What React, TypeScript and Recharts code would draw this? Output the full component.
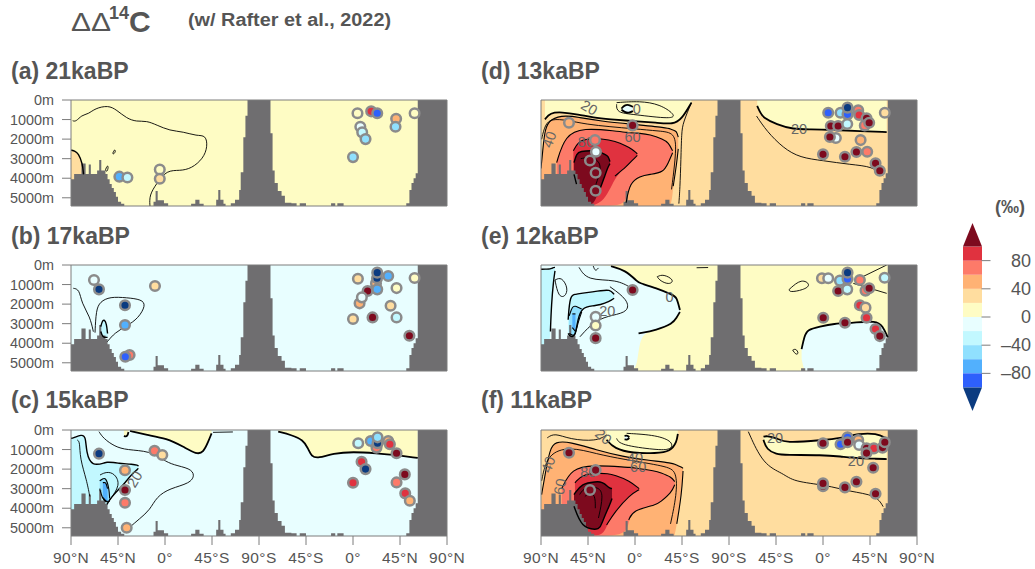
import { BarChart, Bar, ComposedChart, Area, Line, Scatter, XAxis, YAxis } from 'recharts';

// section runs 90N -> 90S (Atlantic) then 90S -> 90N (Pacific), x in degrees from the left edge
const xTicks = [0, 45, 90, 135, 180, 225, 270, 315, 360];
const xTickLabels = ['90°N', '45°N', '0°', '45°S', '90°S', '45°S', '0°', '45°N', '90°N'];
const depthTicks = [0, 1000, 2000, 3000, 4000, 5000];
const maxDepth = 5420;

// [x start of column, sea floor depth]
const seaFloor = [
  [0, 4050], [3, 3780], [10, 3250], [14, 3780], [17, 3300], [19, 3780], [25, 3600], [27, 3070], [29, 3600], [33, 3790],
  [35, 4050], [37, 4300], [39, 4500], [41, 4700], [43, 4950], [45, 5200], [48, 5300], [51, 5420],
  [79, 5200], [81, 4650], [83, 5120], [89, 5280], [93, 5420],
  [115, 5300], [119, 5100], [123, 5300], [127, 5420],
  [139, 5100], [141, 4600], [143, 5100], [146, 5300], [148, 5420],
  [153, 5280], [157, 5100], [161, 4600], [162.5, 3700], [165, 1900], [167, 800], [169, 0],
  [191, 1700], [193, 3600], [195, 4250], [198, 4650], [201.6, 4900], [204.8, 5250], [211, 5280], [216, 5420],
  [219, 5280], [225, 5420], [249, 5280], [253, 5420], [255, 5280], [261, 5420],
  [321, 5280], [324, 4600], [326, 4250], [328, 4000], [330, 3750], [332, 0], [360, 0],
];

// colour bands, lower bound of each step in permil
const bandColours = [
  [100, '#7d0a1e'], [80, '#e0323f'], [60, '#fd7a69'], [40, '#ffb274'], [20, '#ffdd9f'], [0, '#fefcc4'],
  [-20, '#e8feff'], [-40, '#c2f8ff'], [-60, '#90e0fe'], [-80, '#52b0fd'], [-100, '#2e60fc'],
];
const barSteps = [20, 20, 20, 20, 20];
const barTicks = [-80, -40, 0, 40, 80];

// bands: [x, top depth, bottom depth]
const bandsA = [
  { level: 30, pts: [[0, 2560, 5420], [4, 2620, 5420], [7, 2730, 5420], [11, 3240, 5420], [12, 3800, 5420]] },
];
const linesA = [
  [[1.6, 1060], [4.8, 1110], [10.2, 770], [16.6, 720], [23, 430], [35.7, 270], [43.7, 510], [53.3, 940], [62.8, 1110], [72.4, 1060], [82, 1280], [94.7, 1570], [107.5, 1620], [120.3, 1840], [129.2, 1790], [130.8, 2390], [126.6, 2990], [115.5, 3500], [104.3, 3620], [91.6, 3580], [82, 4270], [75, 4860], [75.6, 5420]],
  [[40, 2730], [41.5, 2520], [43, 2600], [41, 2780], [40, 2730]],
  [[33, 3580], [34.5, 3350], [36, 3400], [34.5, 3700], [33, 3580]],
];
const markersA = [
  [46.3, 3920, -70], [54, 3960, -30], [85, 3550, 10], [85, 4030, 30],
  [274.3, 680, 10], [287.4, 580, 90], [293.2, 680, -90], [311.3, 955, 50], [310.7, 1365, -50], [329, 680, 10],
  [277, 1365, -10], [278.8, 1655, -30], [282, 2000, -50], [270, 2920, -50],
];

const bandsB = [
  { level: -30, pts: [[28.5, 3150, 3400], [30, 2850, 3650], [32, 2790, 3700], [34, 3000, 3700], [35, 3500, 3700]] },
];
const linesB = [
  [[2.2, 1190], [8, 1245], [10.2, 1960], [18.2, 2640], [21.4, 3410]],
  [[23, 3460], [24, 2300], [27.8, 1880], [37.3, 1620], [53.3, 1670], [67.6, 1760], [71.8, 2050], [64.4, 2730], [53.3, 3120], [42, 3460], [34.8, 3920]],
];
const markersB = [
  [22, 770, -10], [26.8, 1245, -110], [80.4, 1075, 30], [51.7, 2060, -110], [51.7, 3070, -70], [56.1, 4600, 70], [52, 4690, -90],
  [274.7, 700, 30], [292, 940, 50], [293, 680, -110], [293.2, 390, -110], [303.7, 560, -70], [284, 1330, 110], [293.2, 1245, -70],
  [311.7, 1180, 10], [329, 665, 10], [276.3, 1960, 50], [278.5, 1655, -10], [306, 2080, 30], [270, 2760, 30], [288.7, 2680, 110],
  [311.7, 2680, -30], [324, 3620, 110],
];

const bandsC = [
  { level: 10, pts: [[56.5, 0, 50], [72.5, 0, 255], [91.6, 0, 430], [107.5, 0, 850], [120.3, 0, 1245], [126.6, 0, 1160], [131.4, 0, 600], [134.6, 0, 170]] },
  { level: 10, pts: [[50.7, 0, 300], [52, 0, 340], [54, 0, 320], [55, 0, 100]] },
  { level: 10, pts: [[198.4, 0, 85], [211, 0, 255], [222.3, 0, 510], [227, 0, 940], [230.3, 0, 1365], [236.7, 0, 1450], [251, 0, 1190], [270, 0, 1110], [292.5, 0, 1190], [311.7, 0, 1280], [330, 0, 1415], [332, 0, 1430]] },
  { level: -30, pts: [[0, 420, 5420], [1.6, 430, 5420], [10.2, 220, 5420], [14.2, 340, 5420], [14.6, 1150, 5420], [19.8, 1880, 5420], [33.7, 1650, 5420], [34.5, 1650, 3800], [35.7, 1650, 3670], [40.5, 1660, 3330], [46.4, 1700, 2990], [50, 1720, 2810], [58, 1750, 2270], [64, 1790, 2000], [64.5, 1850, 1960]] },
  { level: -50, pts: [[27.5, 2600, 3000], [30, 2500, 3500], [33.5, 2430, 3700], [36.5, 3000, 3650], [37, 3500, 3650]] },
  { level: -70, pts: [[30.5, 2700, 3450], [33.5, 2650, 3650], [35, 3000, 3650]] },
];
const linesC = [
  [[136, 120], [155, 100]],
  [[6, 510], [8.5, 600], [8.5, 1450], [15, 2560], [18, 3400]],
  [[26.8, 85], [31, 430], [42, 850], [53.3, 1020], [75.6, 1075], [88.4, 1535], [98, 1790], [114, 1960], [118.7, 2300], [114, 2730], [94.7, 2985], [82, 3410], [75.6, 4090], [66, 4520], [55, 5030]],
  [[27.8, 2300], [34, 2130], [42, 2220], [47.5, 2810], [37, 3580]],
];
const markersC = [
  [26.8, 1210, -110], [80, 1060, 70], [87.4, 1280, 30], [51.7, 2060, 50], [51.7, 3070, 110], [51.7, 3720, 70], [53.3, 5000, 50],
  [275, 680, -30], [287, 560, -70], [303.7, 560, 50], [292.5, 900, 70], [293.5, 680, -110], [293.5, 375, -50], [305.3, 730, 90],
  [311.7, 1190, 110], [278.2, 1620, 90], [282, 2000, -100], [270, 2700, 90], [319.6, 2270, 110], [311.7, 2680, 70], [320, 3240, 90], [324.4, 3620, 50],
];
const labelsC = [[61, 2520, '20', -60]];

const bandsD = [
  { level: 10, pts: [[3.8, 0, 990], [8.6, 0, 650], [19.8, 0, 615], [35.7, 0, 735], [50, 0, 905], [66, 0, 990], [88.4, 0, 1075], [110.7, 0, 1160], [126.6, 0, 1245], [134.6, 0, 990], [144, 0, 135]] },
  { level: -10, pts: [[77, 440, 490], [80, 260, 620], [84, 240, 680], [88, 350, 560]] },
  { level: 50, pts: [[0, 3500, 5420], [2, 2400, 5420], [3.8, 1500, 5420], [8.6, 950, 5420], [24.6, 780, 5420], [35.7, 890, 5420], [56.5, 1075, 5420], [88.4, 1245, 5420], [120.3, 1415, 5420], [125, 1500, 5420], [126.6, 1540, 4400], [129.8, 1590, 3300], [131.4, 1900, 2500]] },
  { level: 70, pts: [[15, 3200, 5420], [23, 1800, 5420], [40.5, 1420, 5420], [72, 1590, 5420], [81.5, 1650, 5254], [85, 1680, 4230], [94.7, 1700, 3890], [104, 1760, 3800], [117, 2000, 3720], [122, 2170, 3200], [126, 2600, 2700]] },
  { level: 90, pts: [[31, 2600, 5000], [37.3, 1950, 5420], [59.7, 1980, 5420], [70.8, 2100, 3890], [82, 2355, 3400], [86.8, 2500, 3120], [92.2, 2750, 2830]] },
  { level: 110, pts: [[31.6, 3200, 3800], [34, 2750, 4300], [37.3, 2620, 5420], [50, 2580, 5420], [53.3, 2610, 4913], [56.5, 2650, 4570], [61, 2780, 3890], [64.4, 2866, 3400], [66, 3150, 3250]] },
  { level: 10, pts: [[207, 0, 300], [210, 0, 650], [212.8, 0, 905], [225.5, 0, 1245], [241.5, 0, 1500], [257.4, 0, 1500], [279.8, 0, 1530], [305.3, 0, 1590], [331, 0, 1640]] },
];
const linesD = [
  [[72.4, 220], [72.4, 650], [88.4, 735], [126.6, 990], [128.2, 735], [113.9, 220], [94.7, 50], [72.4, 135]],
  [[0.6, 2010], [3.8, 1250], [10, 960], [24.6, 1025], [43.7, 1245], [66, 1365], [88.4, 1470], [114, 1590], [128, 1670], [129.8, 2525], [125, 4570]],
  [[144, 135], [136, 1160], [134.6, 1670], [134, 3000], [133, 4570], [132, 5300]],
  [[38, 3000], [48, 2900], [55, 3100], [58, 3500], [52, 4400]],
  [[206.4, 820], [216, 1590], [232, 2460], [248, 2950], [270, 3100], [295.7, 3300], [318, 3400], [327.6, 3890]],
];
const markersD = [
  [26.8, 1160, 50], [87.7, 1300, 110], [51.7, 2050, 70], [52.6, 2645, -10], [46.9, 3090, 110], [52.3, 3720, 110], [52.3, 4640, 110],
  [275, 650, -90], [286.8, 650, -50], [293.5, 735, -90], [293.5, 390, -110], [303.7, 530, 70], [304.6, 770, 90], [311.7, 940, 110],
  [329.2, 650, 30], [310, 1300, 70], [314.2, 1160, 110], [277.5, 1330, 110], [284.5, 1330, 110], [293.2, 1230, -30], [282.3, 1945, -20], [276.6, 1890, 110],
  [306, 2050, 50], [312.3, 2645, 70], [302, 2660, 110], [270, 2780, 110], [291, 2900, 110], [320.3, 3240, 110], [324.4, 3617, 110],
];
const labelsD = [[46.3, 390, '20', 30], [8, 2020, '40', -70], [43, 2150, '80', 0], [87.7, 1880, '60', 0], [91.6, 440, '0', 0], [247, 1500, '20', 0]];

const bandsE = [
  { level: -10, pts: [[0, 0, 5420], [66, 0, 5420], [67, 60, 5420], [80.4, 255, 5420], [93.1, 880, 5420], [93.4, 900, 3500], [110.7, 1190, 3325], [126, 1530, 3000], [129.8, 1620, 2700], [133, 2300, 2400]] },
  { level: -30, pts: [[0, 220, 5420], [6, 210, 5420], [9, 200, 3400], [10, 180, 2000], [12, 130, 800], [13.4, 120, 300]] },
  { level: -30, pts: [[26, 2800, 3500], [27.7, 1535, 3670], [33, 1500, 3670], [35, 1480, 2800], [39, 1450, 2170], [50, 1365, 2080], [56.5, 1320, 2050], [66, 1245, 1850], [70, 1500, 1700]] },
  { level: -50, pts: [[27, 2600, 3500], [30, 2100, 3600], [33, 2100, 3600], [35, 2150, 3000], [39, 2250, 2400]] },
  { level: -70, pts: [[30, 2500, 3200], [33, 2500, 3400]] },
  { level: -10, pts: [[249.5, 4300, 4800], [252, 3680, 5420], [255, 3300, 5420], [267, 3150, 5420], [280, 3000, 5420], [299, 2950, 5420], [321, 2850, 5420], [327, 3100, 5420], [332, 3700, 5420]] },
];
const linesE = [
  [[13.4, 770], [19.8, 600], [26.2, 1200], [23, 1650], [16.6, 1620], [13.4, 770]],
  [[36.4, 120], [44.3, 800], [72.4, 730], [86.8, 1190]],
  [[66, 1110], [83.6, 1790], [83.6, 2390], [69, 2560], [51.7, 2815], [37.3, 3670]],
  [[111.3, 600], [117, 460], [128, 770], [123, 1020], [114, 810], [111.3, 600]],
  [[50, 50], [52, 340], [55, 150]],
  [[149, 140], [160, 130]],
  [[241, 4350], [244, 4270], [247, 4520], [244, 4600], [241, 4350]],
  [[237.6, 1250], [249.5, 680], [259, 1020], [251, 1280], [238, 1400], [237.6, 1250]],
  [[299, 940], [331, 1450]],
  [[308, 600], [331, 0]],
];
const markersE = [
  [52.3, 2645, -10], [52.3, 3090, 10], [52.3, 3740, 110], [87.7, 1280, 110],
  [269, 680, 30], [275, 680, -10], [286.2, 800, -50], [293.5, 716, -90], [293.5, 390, -110], [305.3, 770, 70], [329, 650, -30],
  [284.5, 1330, 110], [293.2, 1245, -30], [310.7, 1310, 70], [314.2, 1190, 110], [305.3, 2060, 90], [310.7, 2180, 30], [311.7, 2700, 90],
  [270.2, 2700, 110], [291, 2950, 110], [320.3, 3275, 90], [324.4, 3635, 110],
];
const labelsE = [[123, 1650, '0', 0], [63.5, 2340, '20', 0]];

const bandsF = [
  { level: 10, pts: [[62.8, 0, 500], [70, 0, 950], [88, 0, 1190], [110, 0, 1190], [124, 0, 1100], [130, 0, 600], [131, 0, 200]] },
  { level: -10, pts: [[80, 300, 480], [83, 280, 500], [84.5, 380, 400]] },
  { level: 50, pts: [[0.6, 3300, 5420], [3.8, 2300, 5420], [8.6, 950, 5420], [13.4, 600, 5420], [27.7, 600, 5420], [53, 1020, 5420], [78.7, 1365, 5420], [101, 1535, 5420], [126.6, 1700, 5420], [128, 1750, 5420], [130, 1800, 4800], [134.6, 1900, 3300], [136, 1960, 2100]] },
  { level: 70, pts: [[19.8, 3000, 5420], [29.3, 1960, 5420], [50, 1790, 5420], [82, 1900, 5420], [84, 1910, 4600], [88.4, 1930, 4090], [110, 2100, 3840], [113.9, 2170, 3700], [125, 2400, 3200], [128, 2640, 2800]] },
  { level: 90, pts: [[32.5, 2700, 4000], [40.5, 2220, 5420], [59.7, 2220, 5420], [62.8, 2220, 4860], [70.8, 2300, 4180], [85, 2600, 3320], [94, 3000, 3050]] },
  { level: 110, pts: [[31.6, 3300, 3900], [39, 2730, 5000], [53, 2640, 5100], [56.5, 2650, 5030], [60, 2700, 4520], [66, 3000, 3800], [68, 2985, 3500]] },
  { level: 10, pts: [[213, 340, 500], [216, 300, 1000], [225.5, 400, 1245], [233.5, 680, 1280], [270, 510, 1280], [286, 430, 1350], [305, 170, 1450], [321, 170, 1470], [331, 430, 1485]] },
];
const linesF = [
  [[6, 400], [13, 150], [27.7, 480], [53, 580], [63, 250]],
  [[72.4, 430], [75.6, 770], [110.7, 1020], [125, 1020], [126.6, 600], [110.7, 260], [82, 170]],
  [[0.6, 2600], [6, 1200], [27.7, 850], [53, 1220], [78.7, 1500], [120, 1850], [130, 2100], [130, 3300], [124, 4800]],
  [[37, 3300], [42, 2900], [55, 2900], [60, 3300], [55, 4500]],
  [[42, 3400], [46, 3200], [52, 3300], [52, 4000]],
  [[198.5, 85], [212.8, 1790], [232, 2220], [241.5, 2640], [273.4, 2815], [295.7, 3150], [321, 3325], [327.6, 3920]],
];
const markersF = [
  [26.8, 1160, 110], [52.3, 2050, 110], [46.9, 3070, 110],
  [270, 680, 110], [286.8, 730, -90], [293.5, 375, -90], [293.5, 630, 110], [303.7, 510, 50], [304.6, 770, -10],
  [311.7, 940, 110], [318.7, 940, 90], [327, 900, 110], [329.2, 630, 110], [311.7, 1180, 110], [318, 1930, 110],
  [270, 2870, 110], [270, 2730, 110], [291, 2935, 110], [302, 2645, 110], [320.3, 3260, 110],
];
const labelsF = [[59.7, 340, '20', 40], [7, 1760, '40', -70], [18.2, 2900, '60', -80], [45.3, 2170, '80', 0], [90, 1415, '40', 0], [93, 1910, '60', 0], [224, 430, '20', 0], [301.5, 1590, '20', 0]];

const panels = [
  { title: '(a) 21kaBP', base: 10, bands: bandsA, lines: linesA, markers: markersA, labels: [], col: 0, row: 0 },
  { title: '(b) 17kaBP', base: -10, bands: bandsB, lines: linesB, markers: markersB, labels: [], col: 0, row: 1 },
  { title: '(c) 15kaBP', base: -10, bands: bandsC, lines: linesC, markers: markersC, labels: labelsC, col: 0, row: 2 },
  { title: '(d) 13kaBP', base: 30, bands: bandsD, lines: linesD, markers: markersD, labels: labelsD, col: 1, row: 0 },
  { title: '(e) 12kaBP', base: 10, bands: bandsE, lines: linesE, markers: markersE, labels: labelsE, col: 1, row: 1 },
  { title: '(f) 11kaBP', base: 30, bands: bandsF, lines: linesF, markers: markersF, labels: labelsF, col: 1, row: 2 },
];

const FONT = '"Liberation Sans", Arial, sans-serif';
const INK = '#555555';
const TICK = '#7c7c7c';
const ROW_TOP = [100, 265, 430];
const COL_LEFT = [0, 470];
const TITLE_TOP = [60, 225, 389];
const TITLE_LEFT = [11, 481];

function colourOf(value: number) {
  if (value <= -100) return '#0b3b80';
  const hit = bandColours.find((b) => value >= (b[0] as number));
  return hit ? (hit[1] as string) : '#0b3b80';
}

function contourWidth(level: number) {
  const a = Math.abs(level);
  if (a <= 10) return 1.8;
  if (a <= 30 || a >= 110) return 1.4;
  return 1.1;
}

function edgeTop(pts: number[][]) {
  return pts.map((p) => ({ x: p[0], depth: p[1] <= 0 ? null : p[1] }));
}

function edgeBottom(pts: number[][]) {
  return pts.map((p) => ({ x: p[0], depth: p[2] >= maxDepth ? null : p[2] }));
}

function Panel({ panel, showX }: { panel: (typeof panels)[number]; showX: boolean }) {
  const floor = seaFloor.map((s) => ({ x: s[0], top: s[1], bot: maxDepth }));
  const rows = panel.bands.map((b) => b.pts.map((p) => ({ x: p[0], top: p[1], bot: p[2] })));
  const dots = panel.markers.map((m) => ({ x: m[0], depth: m[1], value: m[2] }));
  const texts = (panel.labels as any[]).map((l) => ({ x: l[0], depth: l[1], text: l[2], angle: l[3] }));
  return (
    <div style={{ position: 'absolute', left: COL_LEFT[panel.col], top: ROW_TOP[panel.row] - 9 }}>
      <ComposedChart
        width={71 + 376 + 10 + 30}
        height={9 + 106 + (showX ? 36 : 9)}
        margin={{ top: 0, right: 30, bottom: 0, left: 0 }}
      >
        <XAxis
          dataKey="x"
          type="number"
          domain={[0, 360]}
          ticks={xTicks}
          interval={0}
          allowDataOverflow
          height={showX ? 36 : 9}
          tickSize={9}
          tickMargin={7}
          stroke={TICK}
          tick={showX ? { fill: INK, fontSize: 15.5, fontFamily: FONT, letterSpacing: 0.4 } : false}
          tickFormatter={(_v: number, i: number) => xTickLabels[i]}
        />
        <XAxis xAxisId="top" orientation="top" dataKey="x" type="number" domain={[0, 360]} ticks={xTicks} interval={0} height={9} tickSize={9} stroke={TICK} tick={false} />
        <YAxis
          dataKey="depth"
          type="number"
          reversed
          domain={[0, maxDepth]}
          ticks={depthTicks}
          interval={0}
          allowDataOverflow
          width={71}
          tickSize={9}
          tickMargin={8}
          stroke={TICK}
          tick={panel.col === 0 ? { fill: INK, fontSize: 14.4, fontFamily: FONT } : false}
          tickFormatter={(v: number) => `${v}m`}
        />
        <YAxis yAxisId="right" orientation="right" dataKey="depth" type="number" reversed domain={[0, maxDepth]} ticks={depthTicks} interval={0} width={10} tickSize={9} stroke={TICK} tick={false} />

        <Area
          data={[{ x: 0, top: 0, bot: maxDepth }, { x: 360, top: 0, bot: maxDepth }]}
          dataKey={(d: any) => [d.top, d.bot]}
          fill={colourOf(panel.base)}
          fillOpacity={1}
          stroke="none"
          isAnimationActive={false}
        />
        {panel.bands.map((b, i) => (
          <Area
            key={`band${i}`}
            data={rows[i]}
            type="basis"
            dataKey={(d: any) => [d.top, d.bot]}
            fill={colourOf(b.level)}
            fillOpacity={1}
            stroke="none"
            isAnimationActive={false}
          />
        ))}
        {panel.bands.map((b, i) => (
          <Line
            key={`top${i}`}
            data={edgeTop(b.pts)}
            type="basis"
            dataKey="depth"
            stroke="#000"
            strokeWidth={contourWidth(b.level)}
            dot={false}
            activeDot={false}
            isAnimationActive={false}
          />
        ))}
        {panel.bands.map((b, i) => (
          <Line
            key={`bot${i}`}
            data={edgeBottom(b.pts)}
            type="basis"
            dataKey="depth"
            stroke="#000"
            strokeWidth={contourWidth(b.level)}
            dot={false}
            activeDot={false}
            isAnimationActive={false}
          />
        ))}
        {panel.lines.map((l, i) => (
          <Line
            key={`line${i}`}
            data={l.map((p) => ({ x: p[0], depth: p[1] }))}
            type="basis"
            dataKey="depth"
            stroke="#000"
            strokeWidth={0.9}
            dot={false}
            activeDot={false}
            isAnimationActive={false}
          />
        ))}
        <Area
          data={floor}
          dataKey={(d: any) => [d.top, d.bot]}
          type="stepAfter"
          fill="#6f6e70"
          fillOpacity={1}
          stroke="none"
          isAnimationActive={false}
        />
        <Scatter
          data={texts}
          isAnimationActive={false}
          shape={(p: any) => (
            <text
              x={p.cx}
              y={p.cy}
              dy={5}
              textAnchor="middle"
              fontSize={14.5}
              fontFamily={FONT}
              fill="#666"
              transform={`rotate(${p.payload.angle} ${p.cx} ${p.cy})`}
            >
              {p.payload.text}
            </text>
          )}
        />
        <Scatter
          data={dots}
          isAnimationActive={false}
          shape={(p: any) => (
            <circle cx={p.cx} cy={p.cy} r={4.8} fill={colourOf(p.payload.value)} stroke="#8b8b8b" strokeWidth={2.5} />
          )}
        />
      </ComposedChart>
    </div>
  );
}

function ColourBar() {
  const row: Record<string, any> = { name: 'bar' };
  const up = [...barSteps, 33.4];
  const down = [...barSteps, 33.4];
  up.forEach((v, i) => (row[`p${i}`] = v));
  down.forEach((v, i) => (row[`n${i}`] = -v));
  const segment = (key: string, colour: string, cap: '' | 'up' | 'down') => (
    <Bar
      key={key}
      dataKey={key}
      stackId="s"
      fill={colour}
      isAnimationActive={false}
      shape={(p: any) => {
        const y0 = Math.min(p.y, p.y + p.height);
        const h = Math.abs(p.height);
        if (cap === 'up') return <polygon points={`${p.x},${y0 + h} ${p.x + p.width},${y0 + h} ${p.x + p.width / 2},${y0}`} fill={colour} />;
        if (cap === 'down') return <polygon points={`${p.x},${y0} ${p.x + p.width},${y0} ${p.x + p.width / 2},${y0 + h}`} fill={colour} />;
        return <rect x={p.x} y={y0} width={p.width} height={h} fill={colour} />;
      }}
    />
  );
  return (
    <div style={{ position: 'absolute', left: 963, top: 223 }}>
      <BarChart
        width={70}
        height={188}
        data={[row]}
        stackOffset="sign"
        barCategoryGap={0}
        margin={{ top: 0, right: 0, bottom: 0, left: 0 }}
      >
        <XAxis dataKey="name" hide />
        <YAxis
          orientation="right"
          type="number"
          domain={[-133.4, 133.4]}
          ticks={barTicks}
          interval={0}
          width={51.5}
          tickSize={9}
          axisLine={false}
          stroke={TICK}
          tick={(p: any) => (
            <text x={68} y={p.y} dy={6} textAnchor="end" fontSize={18} fontFamily={FONT} fill={INK}>
              {p.payload.value < 0 ? `–${-p.payload.value}` : p.payload.value}
            </text>
          )}
        />
        {segment('p0', colourOf(10), '')}
        {segment('p1', colourOf(30), '')}
        {segment('p2', colourOf(50), '')}
        {segment('p3', colourOf(70), '')}
        {segment('p4', colourOf(90), '')}
        {segment('p5', colourOf(110), 'up')}
        {segment('n0', colourOf(-10), '')}
        {segment('n1', colourOf(-30), '')}
        {segment('n2', colourOf(-50), '')}
        {segment('n3', colourOf(-70), '')}
        {segment('n4', colourOf(-90), '')}
        {segment('n5', colourOf(-110), 'down')}
      </BarChart>
    </div>
  );
}

const textBase = { position: 'absolute' as const, fontFamily: FONT, color: INK, whiteSpace: 'nowrap' as const, lineHeight: 1 };

export default function App() {
  return (
    <div style={{ position: 'absolute', left: 0, top: 0, width: 1035, height: 569, overflow: 'hidden', background: '#fff' }}>
      <div style={{ ...textBase, left: 71, top: 10, fontSize: 25, transform: 'scaleX(1.2)', transformOrigin: 'left top' }}>ΔΔ</div>
      <div style={{ ...textBase, left: 109, top: 4, fontSize: 18, fontWeight: 700 }}>14</div>
      <div style={{ ...textBase, left: 129, top: 7, fontSize: 30, fontWeight: 700 }}>C</div>
      <div style={{ ...textBase, left: 188, top: 11, fontSize: 18, fontWeight: 700, transform: 'scaleX(1.103)', transformOrigin: 'left top' }}>(w/ Rafter et al., 2022)</div>
      {panels.map((p) => (
        <div key={p.title} style={{ ...textBase, left: TITLE_LEFT[p.col], top: TITLE_TOP[p.row], fontSize: 23, fontWeight: 700 }}>
          {p.title}
        </div>
      ))}
      {panels.map((p) => (
        <Panel key={p.title} panel={p} showX={p.row === 2} />
      ))}
      <ColourBar />
      <div style={{ ...textBase, left: 995, top: 198, fontSize: 18, fontWeight: 700 }}>(‰)</div>
    </div>
  );
}
